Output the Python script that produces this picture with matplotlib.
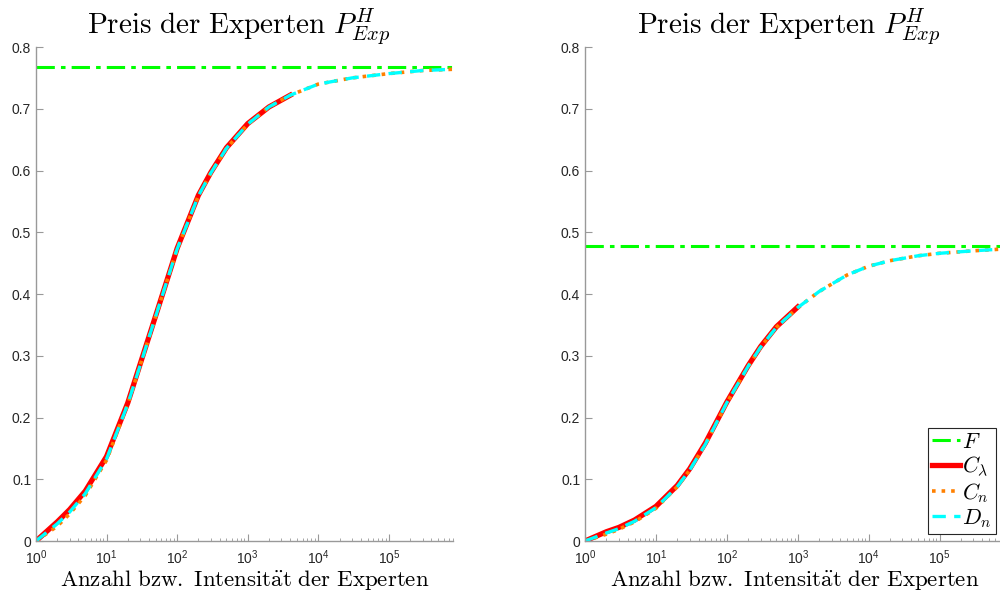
import matplotlib
matplotlib.use("Agg")
import matplotlib.pyplot as plt
from matplotlib.ticker import FixedLocator, LogLocator, NullFormatter

plt.rcParams["font.family"] = ["Liberation Sans", "DejaVu Sans"]
plt.rcParams["mathtext.fontset"] = "cm"

# linkes Bild
x_links = [1, 2, 3, 5, 10, 20, 30, 50, 100, 200, 300, 500, 1000, 2000, 4000]
x_links_lang = x_links + [10000, 30000, 100000, 300000, 810000]
F_links = 0.767
C_lambda_links = [0.0, 0.031, 0.051, 0.081, 0.137, 0.224, 0.287, 0.366, 0.474,
                  0.560, 0.597, 0.637, 0.676, 0.703, 0.722]
C_n_links = [0.0, 0.024, 0.044, 0.074, 0.131, 0.222, 0.285, 0.365, 0.473,
             0.559, 0.596, 0.636, 0.675, 0.703, 0.722, 0.740, 0.750, 0.757, 0.762, 0.764]
D_n_links = [0.0, 0.028, 0.047, 0.077, 0.133, 0.222, 0.285, 0.365, 0.473,
             0.559, 0.596, 0.636, 0.675, 0.703, 0.722, 0.740, 0.750, 0.757, 0.762, 0.764]

# rechtes Bild
x_rechts = [1, 2, 3, 5, 10, 20, 30, 50, 100, 200, 300, 500, 1000]
x_rechts_lang = x_rechts + [2000, 3000, 5000, 10000, 20000, 50000, 100000, 300000, 810000]
F_rechts = 0.4775
C_lambda_rechts = [0.0, 0.015, 0.022, 0.034, 0.056, 0.090, 0.117, 0.159, 0.225,
                   0.284, 0.315, 0.347, 0.379]
C_n_rechts = [0.0, 0.011, 0.019, 0.031, 0.053, 0.088, 0.115, 0.157, 0.224,
              0.283, 0.314, 0.346, 0.378, 0.404, 0.416, 0.431, 0.445, 0.454, 0.462,
              0.466, 0.470, 0.473]
D_n_rechts = [0.0, 0.013, 0.020, 0.032, 0.054, 0.088, 0.115, 0.157, 0.224,
              0.283, 0.314, 0.346, 0.378, 0.404, 0.416, 0.431, 0.445, 0.454, 0.462,
              0.466, 0.470, 0.473]

y_ticks = [0, 0.1, 0.2, 0.3, 0.4, 0.5, 0.6, 0.7, 0.8]
y_tick_labels = ["0", "0.1", "0.2", "0.3", "0.4", "0.5", "0.6", "0.7", "0.8"]
x_ticks = [1, 10, 100, 1000, 10000, 100000]
x_tick_labels = [r"$\mathregular{10^{%d}}$" % i for i in range(6)]

titel = r"$\mathrm{Preis\ der\ Experten}\ P^H_{Exp}$"
x_label = r"$\mathrm{Anzahl\ bzw.\ Intensit\ddot{a}t\ der\ Experten}$"

grau = "#262626"
fig = plt.figure(figsize=(10, 5.94), dpi=100)


def zeichne(ax, x_kurz, x_lang, F, C_lambda, C_n, D_n):
    l1, = ax.plot([x_lang[0], x_lang[-1]], [F, F], color=(0, 1, 0), ls=(0, (6, 2, 1.5, 2)), lw=2.2)
    l2, = ax.plot(x_kurz, C_lambda, color="red", ls="-", lw=3.8)
    l3, = ax.plot(x_lang, C_n, color=(1, 0.5, 0), ls=":", lw=2.6)
    l4, = ax.plot(x_lang, D_n, color="cyan", ls=(0, (4, 2.5)), lw=2.4)
    ax.set_xscale("log")
    ax.set_xlim(1, 8.1e5)
    ax.set_ylim(0, 0.8)
    ax.xaxis.set_major_locator(FixedLocator(x_ticks))
    ax.set_xticklabels(x_tick_labels)
    ax.xaxis.set_minor_locator(LogLocator(base=10, subs=range(2, 10), numticks=20))
    ax.xaxis.set_minor_formatter(NullFormatter())
    ax.set_yticks(y_ticks)
    ax.set_yticklabels(y_tick_labels)
    for s in ["top", "right"]:
        ax.spines[s].set_visible(False)
    for s in ["left", "bottom"]:
        ax.spines[s].set_color("#999999")
        ax.spines[s].set_linewidth(1.0)
    ax.tick_params(which="both", direction="in", colors="#999999", labelcolor=grau,
                   labelsize=10, top=False, right=False)
    ax.tick_params(which="major", length=5)
    ax.tick_params(which="minor", length=2.5)
    ax.tick_params(axis="x", pad=5)
    ax.set_title(titel, fontsize=21, color="black", pad=7, x=0.487)
    ax.set_xlabel(x_label, fontsize=16.5, color="black", labelpad=1)
    return [l1, l2, l3, l4]


ax1 = fig.add_axes([0.036, 0.0892, 0.417, 0.8316])
zeichne(ax1, x_links, x_links_lang, F_links, C_lambda_links, C_n_links, D_n_links)

ax2 = fig.add_axes([0.585, 0.0892, 0.419, 0.8316])
linien = zeichne(ax2, x_rechts, x_rechts_lang, F_rechts, C_lambda_rechts, C_n_rechts, D_n_rechts)

leg = fig.legend(linien, [r"$F$", r"$C_\lambda$", r"$C_n$", r"$D_n$"],
                 loc="lower right", bbox_to_anchor=(0.996, 60 / 594),
                 fontsize=16, handlelength=1.25, handletextpad=0.1,
                 borderpad=0.2, labelspacing=0.08, borderaxespad=0,
                 fancybox=False, framealpha=1)
leg.get_frame().set_edgecolor("#262626")
leg.get_frame().set_linewidth(0.8)

fig.savefig("out.png", dpi=100)
